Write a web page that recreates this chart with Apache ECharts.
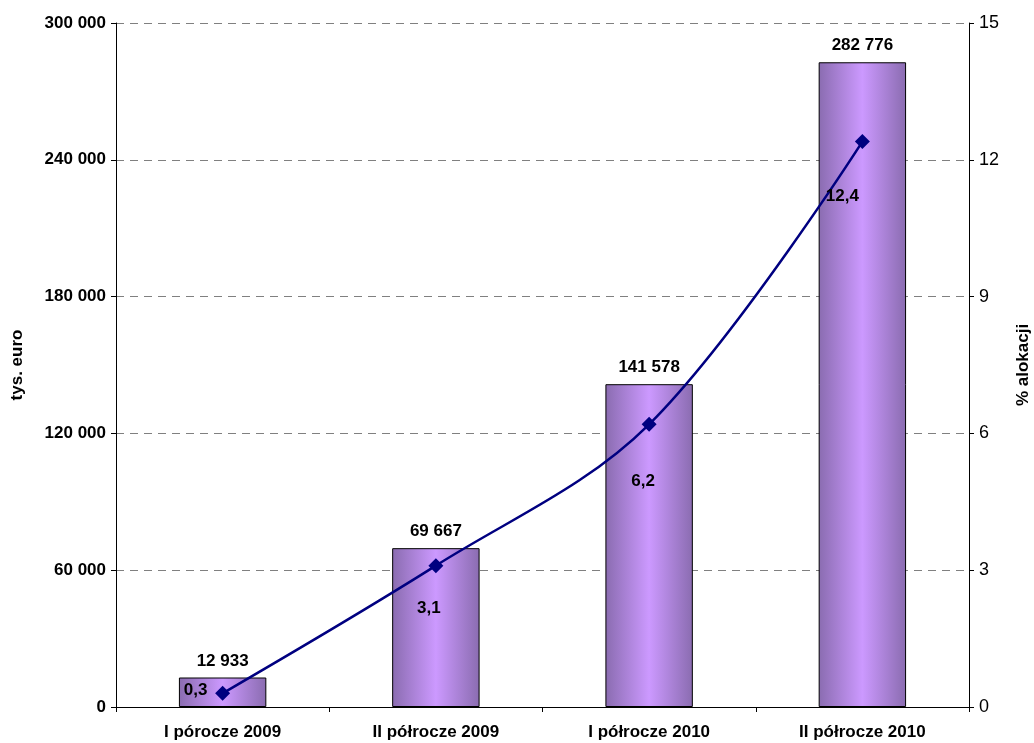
<!DOCTYPE html>
<html lang="pl">
  <head>
    <meta charset="UTF-8" />
    <title>Alokacja</title>
    <style>
      * { margin: 0; padding: 0; }
      html, body { width: 100%; height: 100%; background: #fff; }
      #chart { width: 1034px; height: 743px; }
    </style>
    <script src="https://cdn.jsdelivr.net/npm/echarts@6/dist/echarts.min.js"></script>
  </head>
  <body>
    <div id="chart"></div>
    <script>
      // dane
      var categories = ["I pórocze 2009", "II półrocze 2009", "I półrocze 2010", "II półrocze 2010"];
      var amounts = [12933, 69667, 141578, 282776];
      var percents = [0.3, 3.1, 6.2, 12.4];
      // przesunięcia etykiet procentowych
      var pctLabelOffsets = [[-27, -3], [-7, 43], [-6, 57], [-20, 55]];

      var fmtThousands = function (v) {
        return String(v).replace(/\B(?=(\d{3})+(?!\d))/g, " ");
      };

      var barGradient = new echarts.graphic.LinearGradient(0, 0, 1, 0, [
        { offset: 0, color: "#8a6cb0" },
        { offset: 0.5, color: "#cc99ff" },
        { offset: 1, color: "#8a6cb0" },
      ]);

      var font = "Liberation Sans, Arial, sans-serif";
      var fs = 17;

      var option = {
        backgroundColor: "#ffffff",
        animation: false,
        grid: { left: 116, right: 65, top: 23, bottom: 36, outerBoundsMode: "none", containLabel: false },
        xAxis: {
          type: "category",
          data: categories,
          axisLine: { lineStyle: { color: "#000", width: 1 } },
          axisTick: { show: true, length: 5, lineStyle: { color: "#000" } },
          axisLabel: {
            color: "#000",
            fontWeight: "bold",
            fontSize: fs,
            fontFamily: font,
            margin: 17,
          },
        },
        yAxis: [
          {
            type: "value",
            min: 0,
            max: 300000,
            interval: 60000,
            name: "tys. euro",
            nameLocation: "middle",
            nameGap: 90,
            nameRotate: 90,
            nameTextStyle: { color: "#000", fontWeight: "bold", fontSize: fs, fontFamily: font },
            axisLine: { show: true, lineStyle: { color: "#000" } },
            axisTick: { show: true, length: 5, inside: false, lineStyle: { color: "#000" } },
            axisLabel: {
              color: "#000",
              fontWeight: "bold",
              fontSize: fs,
              fontFamily: font,
              margin: 10,
              formatter: fmtThousands,
            },
            splitLine: { show: true, lineStyle: { color: "#808080", type: [8, 6], width: 1 } },
          },
          {
            type: "value",
            min: 0,
            max: 15,
            interval: 3,
            name: "% alokacji",
            nameLocation: "middle",
            nameGap: 46,
            nameRotate: 90,
            nameTextStyle: { color: "#000", fontWeight: "bold", fontSize: fs, fontFamily: font },
            axisLine: { show: true, lineStyle: { color: "#000" } },
            axisTick: { show: true, length: 5, lineStyle: { color: "#000" } },
            axisLabel: { color: "#000", fontSize: 18, fontFamily: font, margin: 10 },
            splitLine: { show: false },
          },
        ],
        series: [
          {
            type: "bar",
            yAxisIndex: 0,
            barWidth: "41%",
            data: amounts,
            itemStyle: { color: barGradient, borderColor: "#000", borderWidth: 1 },
            label: {
              show: true,
              position: "top",
              distance: 8,
              color: "#000",
              fontWeight: "bold",
              fontSize: fs,
              fontFamily: font,
              formatter: function (p) {
                return fmtThousands(p.value);
              },
            },
            z: 2,
          },
          {
            type: "line",
            yAxisIndex: 1,
            smooth: 0.35,
            symbol: "diamond",
            symbolSize: 15,
            lineStyle: { color: "#000080", width: 2.5 },
            itemStyle: { color: "#000080" },
            data: percents.map(function (v, i) {
              return {
                value: v,
                label: { offset: pctLabelOffsets[i] },
              };
            }),
            label: {
              show: true,
              position: "inside",
              color: "#000",
              fontWeight: "bold",
              fontSize: fs,
              fontFamily: font,
              formatter: function (p) {
                return String(p.value).replace(".", ",");
              },
            },
            z: 3,
          },
        ],
      };

      var myChart = echarts.init(document.getElementById("chart"));
      myChart.setOption(option);
    </script>
  </body>
</html>
